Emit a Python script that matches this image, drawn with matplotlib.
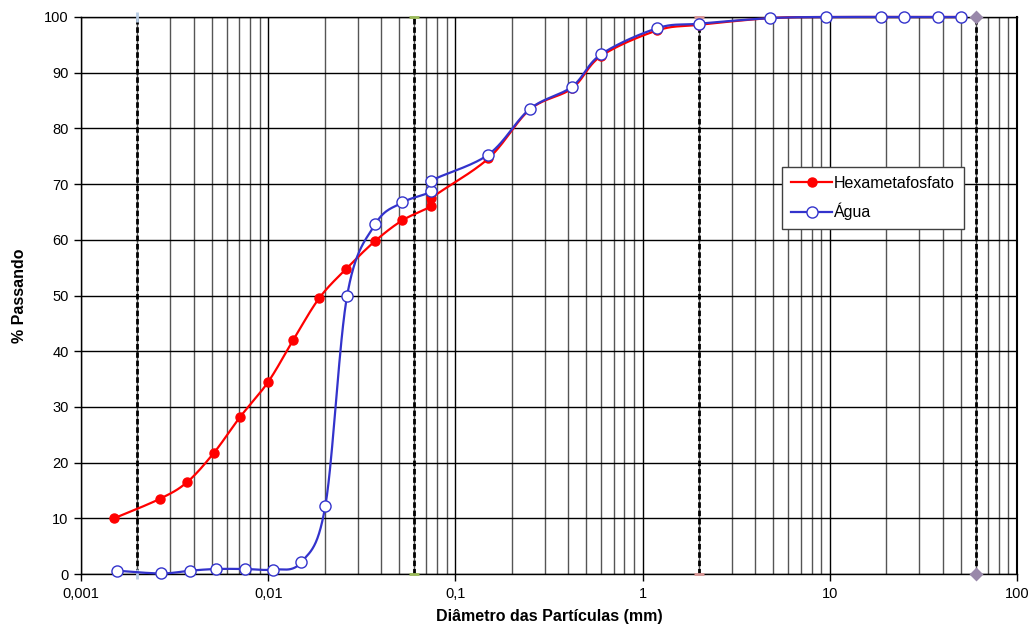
import matplotlib
matplotlib.use("Agg")
import matplotlib.pyplot as plt
import numpy as np

plt.rcParams["font.family"] = ["Liberation Sans", "DejaVu Sans"]

# diâmetros (mm) e % passando
d_hexa = [0.0015, 0.00264, 0.00369, 0.00514, 0.00708, 0.0100, 0.0136, 0.0187,
          0.0261, 0.0373, 0.0521, 0.0745, 0.0745, 0.15, 0.25, 0.42, 0.60, 1.2,
          2.0, 4.8, 9.5, 19.0, 25.0, 38.0, 50.0]
p_hexa = [10.0, 13.5, 16.5, 21.8, 28.2, 34.5, 42.0, 49.5,
          54.8, 59.8, 63.5, 66.1, 67.5, 74.6, 83.4, 87.2, 93.0, 97.6,
          98.6, 99.8, 100.0, 100.0, 100.0, 100.0, 100.0]

d_agua = [0.00156, 0.00268, 0.00383, 0.00527, 0.00754, 0.0106, 0.0150, 0.0202,
          0.0264, 0.0373, 0.0521, 0.0745, 0.0745, 0.15, 0.25, 0.42, 0.60, 1.2,
          2.0, 4.8, 9.5, 18.7, 24.9, 37.8, 50.2]
p_agua = [0.6, 0.1, 0.6, 0.9, 0.9, 0.8, 2.1, 12.3,
          50.0, 62.8, 66.7, 68.7, 70.6, 75.3, 83.5, 87.5, 93.3, 98.0,
          98.8, 99.8, 100.0, 100.0, 100.0, 100.0, 100.0]

# limites argila / silte / areia / pedregulho
limites = [0.002, 0.06, 2.0, 60.0]
cores_lim = ["#b8cce4", "#9bbb59", "#d99694", "#9988aa"]
marc_lim = ["|", "_", "_", "D"]

xticks = [0.001, 0.01, 0.1, 1, 10, 100]
xtick_labels = ["0,001", "0,01", "0,1", "1", "10", "100"]
yticks = list(range(0, 101, 10))


def suaviza(x, y, n=30):
    # curva suavizada tipo Excel (bezier cúbica), feita em log(x)
    lx = np.log10(x) * 18.7
    y = np.asarray(y, float)
    pts = np.column_stack([lx, y])
    out = []
    for i in range(len(pts) - 1):
        p0 = pts[max(i - 1, 0)]
        p1 = pts[i]
        p2 = pts[i + 1]
        p3 = pts[min(i + 2, len(pts) - 1)]
        c1 = p1 + (p2 - p0) / 6.0
        c2 = p2 - (p3 - p1) / 6.0
        t = np.linspace(0, 1, n)[:, None]
        seg = ((1 - t) ** 3 * p1 + 3 * (1 - t) ** 2 * t * c1
               + 3 * (1 - t) * t ** 2 * c2 + t ** 3 * p2)
        out.append(seg if i == 0 else seg[1:])
    out = np.vstack(out)
    return 10 ** (out[:, 0] / 18.7), out[:, 1]


fig = plt.figure(figsize=(10.32, 6.39), dpi=100)
ax = fig.add_axes([0.0785, 0.1017, 0.907, 0.8717])
ax.set_xscale("log")
ax.set_xlim(0.001, 100)
ax.set_ylim(0, 100)

ax.grid(which="major", axis="both", color="black", linewidth=1.0)
ax.grid(which="minor", axis="x", color="#555555", linewidth=1.0)

for xl, c, m in zip(limites, cores_lim, marc_lim):
    ax.plot([xl, xl], [0, 100], color="black", linestyle=(0, (2, 1)),
            linewidth=2.0, zorder=3, clip_on=False)
    ms = 5 if m == "D" else 7
    ax.plot([xl, xl], [0, 100], linestyle="none", marker=m, markersize=ms,
            color=c, markeredgewidth=2, zorder=3, clip_on=False)

xs, ys = suaviza(d_hexa, p_hexa)
ax.plot(xs, ys, color="#ff0000", linewidth=1.6, zorder=4, clip_on=False)
ax.plot(d_hexa, p_hexa, linestyle="none", marker="o", markersize=6.5,
        color="#ff0000", zorder=5, clip_on=False)

xs, ys = suaviza(d_agua, p_agua)
ax.plot(xs, ys, color="#3333cc", linewidth=1.6, zorder=6, clip_on=False)
ax.plot(d_agua, p_agua, linestyle="none", marker="o", markersize=8,
        markerfacecolor="white", markeredgecolor="#3333cc",
        markeredgewidth=1.0, zorder=7, clip_on=False)

# legenda
ax.plot([], [], color="#ff0000", linewidth=1.6, marker="o", markersize=6.5,
        label="Hexametafosfato")
ax.plot([], [], color="#3333cc", linewidth=1.6, marker="o", markersize=8,
        markerfacecolor="white", markeredgecolor="#3333cc", label="Água")
leg = ax.legend(loc="upper left", bbox_to_anchor=(0.749, 0.731), fontsize=11.5,
                frameon=True, fancybox=False, edgecolor="#404040",
                framealpha=1, handlelength=2.6, borderpad=0.55,
                labelspacing=0.75, handletextpad=0.1, borderaxespad=0)
leg.get_frame().set_linewidth(1.0)
leg.set_zorder(10)

ax.set_xticks(xticks)
ax.set_xticklabels(xtick_labels)
ax.set_yticks(yticks)
ax.tick_params(axis="both", which="major", direction="out", length=5,
               width=1, labelsize=10.5, colors="black", pad=4)
ax.tick_params(axis="x", which="minor", length=0)

for s in ax.spines.values():
    s.set_color("black")
    s.set_linewidth(1.0)
ax.spines["right"].set_linewidth(1.5)

ax.set_xlabel("Diâmetro das Partículas (mm)", fontsize=11.5,
              fontweight="bold", labelpad=6)
ax.set_ylabel("% Passando", fontsize=11.5, fontweight="bold", labelpad=12)

fig.savefig("out.png", dpi=100)
